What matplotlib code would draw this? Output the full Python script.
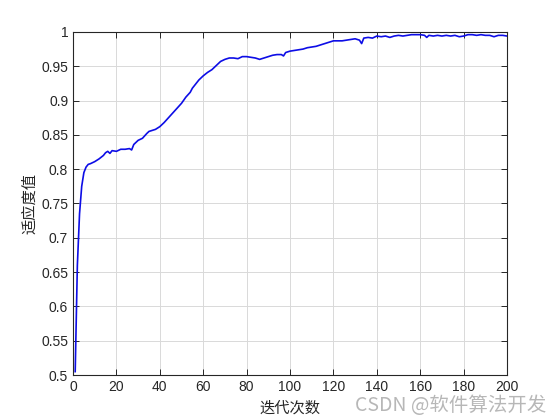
import matplotlib
matplotlib.use('Agg')
from matplotlib import pyplot as plt
from matplotlib.ticker import FormatStrFormatter

# values
iters = [1, 2, 3, 4, 5, 6, 7, 8, 10, 12, 14, 15, 16, 17, 18, 20, 22, 24, 26, 27,
         28, 30, 32, 34, 35, 36, 38, 40, 42, 44, 46, 48, 50, 52, 54, 55, 56, 58,
         60, 62, 64, 66, 68, 70, 72, 74, 76, 78, 80, 82, 84, 86, 88, 90, 92, 94,
         96, 97, 98, 100, 102, 104, 106, 108, 110, 112, 114, 116, 118, 120, 122,
         124, 126, 128, 130, 132, 133, 134, 136, 138, 140, 142, 144, 146, 148,
         150, 152, 154, 156, 158, 160, 162, 163, 164, 166, 168, 170, 172, 174,
         176, 178, 180, 182, 184, 186, 188, 190, 192, 194, 196, 198, 200]
fitness = [0.505, 0.660, 0.735, 0.775, 0.795, 0.803, 0.807, 0.808, 0.811, 0.815,
           0.820, 0.824, 0.826, 0.823, 0.827, 0.826, 0.829, 0.829, 0.830, 0.828,
           0.836, 0.842, 0.845, 0.852, 0.855, 0.856, 0.858, 0.862, 0.868, 0.875,
           0.882, 0.889, 0.896, 0.905, 0.912, 0.918, 0.922, 0.930, 0.936, 0.941,
           0.945, 0.951, 0.957, 0.960, 0.962, 0.962, 0.961, 0.964, 0.964, 0.963,
           0.962, 0.960, 0.962, 0.964, 0.966, 0.967, 0.967, 0.965, 0.970, 0.972,
           0.973, 0.974, 0.975, 0.977, 0.978, 0.979, 0.981, 0.983, 0.985, 0.987,
           0.987, 0.987, 0.988, 0.989, 0.990, 0.988, 0.983, 0.991, 0.992, 0.991,
           0.994, 0.993, 0.994, 0.992, 0.994, 0.995, 0.994, 0.995, 0.996, 0.996,
           0.996, 0.995, 0.992, 0.995, 0.994, 0.995, 0.994, 0.995, 0.994, 0.995,
           0.993, 0.994, 0.996, 0.996, 0.995, 0.996, 0.995, 0.995, 0.993, 0.995,
           0.995, 0.994]

xticks = list(range(0, 201, 20))
yticks = [0.5, 0.55, 0.6, 0.65, 0.7, 0.75, 0.8, 0.85, 0.9, 0.95, 1]

cjk = ['Noto Sans CJK SC', 'DejaVu Sans']
plt.rcParams['font.family'] = ['Liberation Sans', 'DejaVu Sans']

fig = plt.figure(figsize=(5.6, 4.2), dpi=100)
ax = fig.add_axes([0.1304, 0.107, 0.775, 0.817])

ax.plot(iters, fitness, color=(0.05, 0.05, 0.9), linewidth=1.2)

ax.set_xlim(0, 200)
ax.set_ylim(0.5, 1)
ax.set_xticks(xticks)
ax.set_yticks(yticks)
ax.yaxis.set_major_formatter(FormatStrFormatter('%g'))
ax.grid(True, color='#d9d9d9', linewidth=0.7)
ax.set_axisbelow(True)
ax.tick_params(direction='in', top=True, right=True, length=4,
               labelsize=10, colors='#262626', width=0.7)
for s in ax.spines.values():
    s.set_color('#262626')
    s.set_linewidth(0.8)

ax.set_xlabel('迭代次数', family=cjk, fontsize=11, color='#262626', labelpad=4)
ax.set_ylabel('适应度值', family=cjk, fontsize=11, color='#262626', labelpad=2)

# watermark
fig.text(0.975, 0.035, 'CSDN @软件算法开发', family=cjk, fontsize=14,
         color='#b0b0b0', ha='right', va='center', alpha=0.9)

fig.savefig('out.png', dpi=100)
